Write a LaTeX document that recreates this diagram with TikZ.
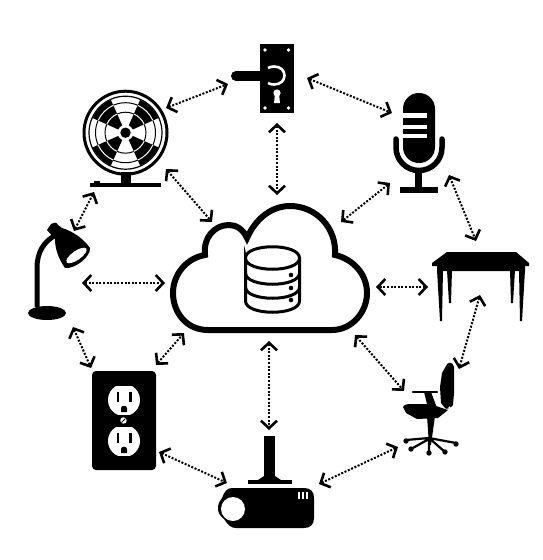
\documentclass[tikz,border=0pt]{standalone}
\usetikzlibrary{arrows.meta}
\tikzset{
  link/.style={line width=2pt,dash pattern=on 2pt off 1.6pt,{Straight Barb[length=7.5pt,width=16pt,line width=2.6pt]}-{Straight Barb[length=7.5pt,width=16pt,line width=2.6pt]}},
  ink/.style={fill=black,draw=none},
  hole/.style={fill=white,draw=none},
  cloudline/.style={line width=6pt,draw=black,fill=white,line join=miter},
  dbline/.style={line width=3pt,draw=black,line cap=round},
}
\begin{document}
\begin{tikzpicture}[x=1pt,y=-1pt]
\useasboundingbox (0,0) rectangle (543,560);
\fill[white] (0,0) rectangle (543,560);
% connector ends
\coordinate (fanA) at (166,108); \coordinate (doorA) at (228,84);
\coordinate (doorB) at (277,123); \coordinate (cloudA) at (277,195);
\coordinate (doorC) at (307,78); \coordinate (micA) at (392,113);
\coordinate (micB) at (390,183); \coordinate (cloudB) at (341,222);
\coordinate (micC) at (449,175); \coordinate (tableA) at (476,241);
\coordinate (tableB) at (428,287); \coordinate (cloudC) at (376,287);
\coordinate (tableC) at (480,295); \coordinate (chairA) at (459,369);
\coordinate (cloudD) at (355,335); \coordinate (chairB) at (404,391);
\coordinate (cloudE) at (269,341); \coordinate (projA) at (269,430);
\coordinate (projB) at (319,484); \coordinate (chairC) at (398,447);
\coordinate (outB) at (159,452); \coordinate (projC) at (227,483);
\coordinate (outA) at (156,365); \coordinate (cloudF) at (184,333);
\coordinate (lampA) at (73,327); \coordinate (outC) at (91,368);
\coordinate (lampB) at (82,283); \coordinate (cloudG) at (165,283);
\coordinate (fanB) at (94,192); \coordinate (lampC) at (74,231);
\coordinate (fanC) at (166,169); \coordinate (cloudH) at (212,222);
\foreach \a/\b in {fanA/doorA,doorB/cloudA,doorC/micA,micB/cloudB,micC/tableA,tableB/cloudC,tableC/chairA,cloudD/chairB,cloudE/projA,projB/chairC,outB/projC,outA/cloudF,lampA/outC,lampB/cloudG,fanB/lampC,fanC/cloudH}
  \draw[link] (\a) -- (\b);
% cloud
\draw[cloudline] (208,330) .. controls (186,330) and (173,312) .. (173,293)
  .. controls (173,274) and (187,258) .. (205,255)
  .. controls (203,238) and (214,225) .. (229,225)
  .. controls (236,225) and (243,229) .. (247,238)
  .. controls (256,218) and (272,206) .. (290,206)
  .. controls (316,206) and (337,228) .. (335,255)
  .. controls (353,259) and (367,274) .. (367,293)
  .. controls (367,312) and (352,330) .. (332,330) -- cycle;
% database
\draw[dbline] (245.5,258) .. controls (245.5,243) and (299.5,243) .. (299.5,258)
  .. controls (299.5,273) and (245.5,273) .. (245.5,258) -- (245.5,301)
  .. controls (245.5,316) and (299.5,316) .. (299.5,301) -- (299.5,258);
\draw[dbline] (245.5,273) .. controls (245.5,288) and (299.5,288) .. (299.5,273);
\draw[dbline] (245.5,287) .. controls (245.5,302) and (299.5,302) .. (299.5,287);
\foreach \y in {275,288,300} \fill (291,\y) circle (2.3);
% door
\fill[ink] (260,44) rectangle (294,113);
\draw[white,line width=2.6pt] (268,68) .. controls (270,67) and (272,66.5) .. (274,66.5) .. controls (288,66.5) and (288,84.5) .. (274,84.5) .. controls (272,84.5) and (270,84) .. (268,83);
\draw[black,line width=10pt,line cap=round] (236,76) -- (271,76);
\fill[ink] (264,71) .. controls (269,70) and (271,68.5) .. (273,68.5) .. controls (285,68.5) and (285,82.5) .. (273,82.5) .. controls (271,82.5) and (269,82) .. (264,81) -- cycle;
\fill[hole] (277,93) circle (3.6);
\fill[hole] (275,94) -- (279,94) -- (280,103) -- (274,103) -- cycle;
\foreach \x/\y in {265/50,288.5/50,265/108,288.5/108} \fill[hole] (\x,\y) circle (1.8);
% fan
\begin{scope}[shift={(125.5,132.7)},x=1pt,y=1pt]
  \draw[line width=3pt] (0,0) circle (41.5);
  \draw[line width=1.2pt] (0,0) circle (36.5);
  \foreach \c in {45,135,225,315}{
    \fill (\c-21:8) -- (\c-21:36) arc[start angle=\c-21,end angle=\c+21,radius=36] -- (\c+21:8) arc[start angle=\c+21,end angle=\c-21,radius=8] -- cycle;
    \draw[white,line width=1pt] (\c-21:20.5) arc[start angle=\c-21,end angle=\c+21,radius=20.5];
    \draw[white,line width=1pt] (\c-21:30) arc[start angle=\c-21,end angle=\c+21,radius=30];
    \draw[line width=1pt] (\c+21:20.5) arc[start angle=\c+21,end angle=\c+69,radius=20.5];
    \draw[line width=1pt] (\c+21:30) arc[start angle=\c+21,end angle=\c+69,radius=30];
  }
  \fill (0,0) circle (5.2);
\end{scope}
\fill[ink] (121,172) rectangle (131,184);
\fill[ink] (90,183) rectangle (161,187);
\fill[ink] (94,181) rectangle (100,184);
% microphone
\fill[ink] (403,109) .. controls (403,100) and (410,93) .. (419,93) .. controls (428,93) and (435,100) .. (435,109) -- (435,147)
  .. controls (435,156) and (428,163) .. (419,163) .. controls (410,163) and (403,156) .. (403,147) -- cycle;
\fill[hole] (402,113) rectangle (427,118);
\fill[hole] (402,124.5) rectangle (427,128.5);
\fill[hole] (402,134) rectangle (427,138);
\draw[line width=5.5pt,line cap=round] (396,139) -- (396,147.5) .. controls (396,160) and (406,170.5) .. (419,170.5) .. controls (432,170.5) and (442,160) .. (442,147.5) -- (442,139);
\fill[ink] (415,170) rectangle (422,188);
\fill[ink] (400,187) rectangle (438,193);
% table
\fill[ink] (447,252) -- (516,252) -- (529,263) -- (529,266) -- (525,266) -- (525,271) -- (437,271) -- (437,266) -- (432,266) -- (432,263) -- cycle;
\fill[ink] (437,270) -- (443,270) -- (442,321) -- (440,321) -- cycle;
\fill[ink] (447,270) -- (452,270) -- (451,303) -- (449,303) -- cycle;
\fill[ink] (510,270) -- (515,270) -- (513,303) -- (511,303) -- cycle;
\fill[ink] (519,270) -- (525,270) -- (522,321) -- (520,321) -- cycle;
% lamp
\draw[line width=5pt] (37,307) -- (37,268) .. controls (37,252) and (44,242) .. (54,236);
\fill[ink] (47,313) ellipse [x radius=19,y radius=7];
\fill[ink] (47,230) -- (51,224) .. controls (53,222) and (57,222) .. (58,225) -- (62,228)
  .. controls (72,231) and (83,238) .. (90,248) .. controls (91,256) and (76,269) .. (65,268)
  .. controls (58,258) and (55,248) .. (55,239) -- cycle;
\begin{scope}[shift={(76.5,255.5)},rotate=35]
  \fill[hole] (0,0) ellipse [x radius=12,y radius=4.5];
\end{scope}
% outlet
\fill[ink,rounded corners=4pt] (92,371) rectangle (156,470);
\foreach \y in {400,441}{
  \begin{scope}
    \clip (104,\y-14) rectangle (144,\y+14);
    \fill[hole] (124,\y) circle (16);
  \end{scope}
  \fill[ink] (116.5,\y-8) rectangle (119,\y+2);
  \fill[ink] (129,\y-8) rectangle (131.5,\y+2);
  \fill[ink] (121,\y+12) -- (121,\y+8) .. controls (121,\y+5) and (127,\y+5) .. (127,\y+8) -- (127,\y+12) -- cycle;
}
\fill[hole] (123.5,420.5) circle (3.2);
\draw[black,line width=0.8pt] (121.5,422.5) -- (125.5,418.5);
% projector
\fill[ink] (264,436) rectangle (275,476);
\fill[ink] (258,480) -- (264,476) -- (275,476) -- (281,480) -- cycle;
\fill[ink] (248,480) rectangle (292,484);
\fill[ink] (232,488) -- (304,488) .. controls (311,488) and (314,492) .. (314,498) -- (314,518)
  .. controls (314,525) and (310,528) .. (304,528) -- (236,528)
  .. controls (231,528) and (228,525) .. (224,519) .. controls (219,515) and (218,512) .. (218,508)
  .. controls (218,503) and (220,501) .. (222,498) .. controls (224,492) and (227,488) .. (232,488) -- cycle;
\fill[hole] (233,509) circle (12);
\foreach \x in {297.5,301.5,305.5} \fill[hole] (\x,492) rectangle (\x+2.5,499);
% chair
\fill[ink] (446,366) .. controls (447,362) and (453,361) .. (454,367) -- (454,393) -- (453,405)
  .. controls (451,408) and (446,410) .. (445,408) -- (441,403) -- (440,387) -- (442,373) -- cycle;
\fill[ink] (403,407) .. controls (405,404) and (408,404) .. (410,404) -- (430,404) -- (448,410)
  -- (438,418) -- (417,419) -- (406,413) -- cycle;
\fill[hole] (449.5,407.5) circle (1.2);
\draw[line width=2.5pt,line cap=round] (413,392) -- (437,392);
\fill[ink] (424,392) -- (431,392) -- (437,408) -- (428,408) -- cycle;
\fill[ink] (427,416) -- (435,416) -- (431,445) -- (429,445) -- cycle;
\draw[line width=2.2pt] (429,438) -- (406,440) (429,439) -- (411,449) (429,439) -- (429,452)
  (429,438) -- (445,452) (429,438) -- (456,443);
\foreach \x/\y in {406/441,411/449,429/453,445/452,456/444} \fill (\x,\y) circle (2.7);
\end{tikzpicture}
\end{document}
